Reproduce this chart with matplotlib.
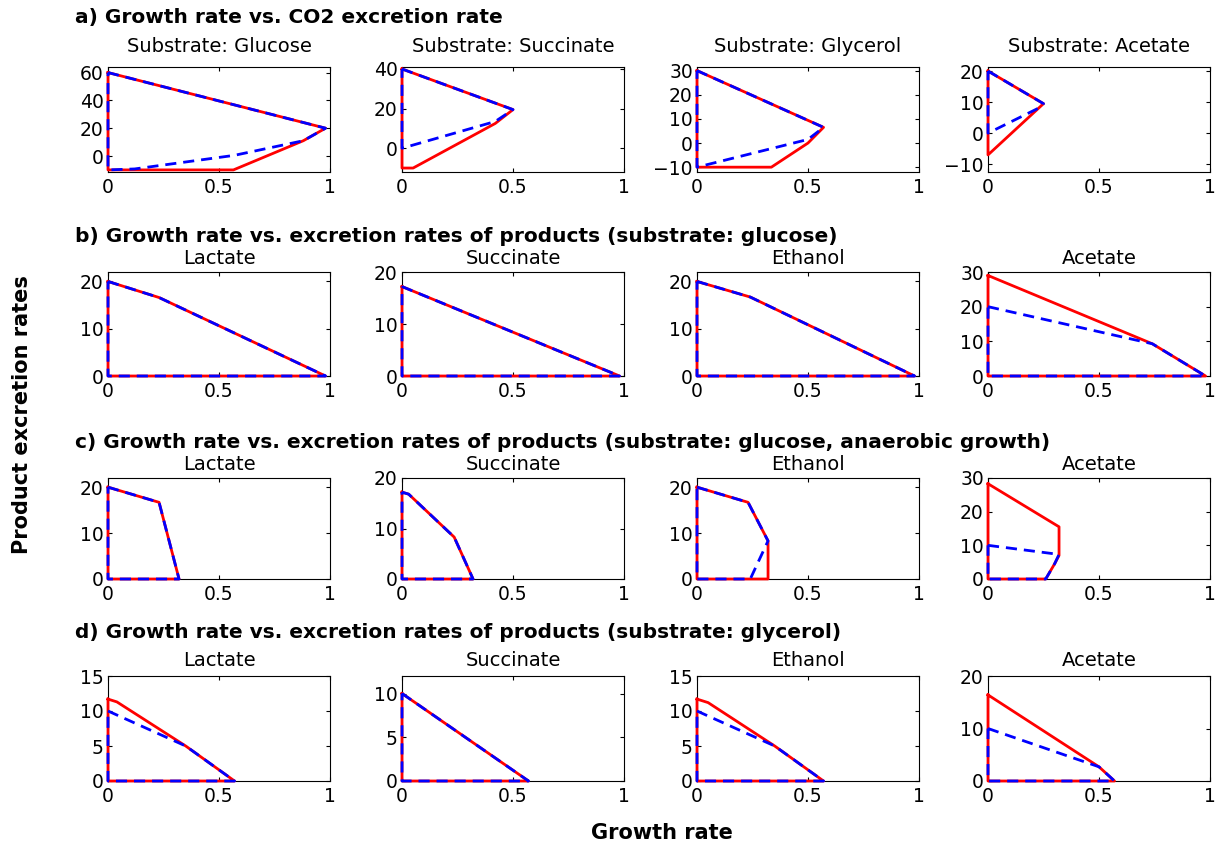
import matplotlib
matplotlib.use('Agg')
import matplotlib.pyplot as plt

plt.rcParams['font.family'] = 'DejaVu Sans'
plt.rcParams['axes.unicode_minus'] = True

# ---- row a: growth rate vs CO2 excretion (x = growth rate, y = rate)
a_titles = ['Substrate: Glucose', 'Substrate: Succinate', 'Substrate: Glycerol', 'Substrate: Acetate']
a_red_x = [[0, 0.98, 0.88, 0.565, 0, 0],
           [0, 0.5, 0.42, 0.05, 0, 0],
           [0, 0.57, 0.5, 0.335, 0, 0],
           [0, 0.25, 0, 0]]
a_red_y = [[60, 20, 11, -10, -10, 60],
           [40, 19.5, 12.5, -10, -10, 40],
           [30, 6.5, 0, -10, -10, 30],
           [20, 9.5, -7, 20]]
a_blue_x = [[0, 0.98, 0.88, 0.57, 0.12, 0, 0],
            [0, 0.5, 0.42, 0, 0],
            [0, 0.57, 0.5, 0, 0],
            [0, 0.25, 0.24, 0, 0]]
a_blue_y = [[60, 20, 11, 0.5, -9.3, -10, 60],
            [40, 19.5, 13.5, 0, 40],
            [30, 6.5, 1.5, -10, 30],
            [20, 9.5, 8.5, 0, 20]]
a_ylim = [(-11.5, 64), (-12, 41), (-12, 31.5), (-12.5, 21.3)]
a_yticks = [[0, 20, 40, 60], [0, 20, 40], [-10, 0, 10, 20, 30], [-10, 0, 10, 20]]

products = ['Lactate', 'Succinate', 'Ethanol', 'Acetate']

# ---- row b: glucose
b_red_x = [[0, 0.23, 0.98, 0, 0], [0, 0.98, 0, 0], [0, 0.24, 0.98, 0, 0], [0, 0.74, 0.98, 0, 0]]
b_red_y = [[20, 16.6, 0, 0, 20], [17.2, 0, 0, 17.2], [20, 16.7, 0, 0, 20], [29, 9.3, 0, 0, 29]]
b_blue_x = [[0, 0.23, 0.98, 0, 0], [0, 0.98, 0, 0], [0, 0.24, 0.98, 0, 0], [0, 0.74, 0.98, 0, 0]]
b_blue_y = [[20, 16.6, 0, 0, 20], [17.2, 0, 0, 17.2], [20, 16.7, 0, 0, 20], [20, 9.3, 0, 0, 20]]
b_ylim = [(0, 22), (0, 20), (0, 22), (0, 30)]
b_yticks = [[0, 10, 20], [0, 10, 20], [0, 10, 20], [0, 10, 20, 30]]

# ---- row c: glucose, anaerobic
c_red_x = [[0, 0.23, 0.32, 0, 0], [0, 0.03, 0.235, 0.32, 0, 0],
           [0, 0.23, 0.32, 0.32, 0, 0], [0, 0.32, 0.32, 0.30, 0.26, 0, 0]]
c_red_y = [[20, 16.7, 0, 0, 20], [17.2, 16.8, 8.3, 0, 0, 17.2],
           [20, 16.7, 8.3, 0, 0, 20], [28.3, 15.5, 7, 4.5, 0, 0, 28.3]]
c_blue_x = [[0, 0.23, 0.32, 0, 0], [0, 0.03, 0.235, 0.32, 0, 0],
            [0, 0.23, 0.32, 0.24, 0, 0], [0, 0.32, 0.30, 0.26, 0, 0]]
c_blue_y = [[20, 16.7, 0, 0, 20], [17.2, 16.8, 8.3, 0, 0, 17.2],
            [20, 16.7, 8.3, 0, 0, 20], [10, 7.3, 4.5, 0, 0, 10]]
c_ylim = [(0, 22), (0, 20), (0, 22), (0, 30)]
c_yticks = [[0, 10, 20], [0, 10, 20], [0, 10, 20], [0, 10, 20, 30]]

# ---- row d: glycerol
d_red_x = [[0, 0.04, 0.35, 0.57, 0, 0], [0, 0.57, 0, 0], [0, 0.05, 0.35, 0.57, 0, 0], [0, 0.5, 0.57, 0, 0]]
d_red_y = [[11.7, 11.3, 5, 0, 0, 11.7], [10, 0, 0, 10], [11.7, 11.2, 5, 0, 0, 11.7], [16.4, 2.7, 0, 0, 16.4]]
d_blue_x = [[0, 0.35, 0.57, 0, 0], [0, 0.57, 0, 0], [0, 0.35, 0.57, 0, 0], [0, 0.5, 0.57, 0, 0]]
d_blue_y = [[10, 5, 0, 0, 10], [10, 0, 0, 10], [10, 5, 0, 0, 10], [10, 2.7, 0, 0, 10]]
d_ylim = [(0, 15), (0, 12), (0, 15), (0, 20)]
d_yticks = [[0, 5, 10, 15], [0, 5, 10], [0, 5, 10, 15], [0, 10, 20]]

row_titles = ['a) Growth rate vs. CO2 excretion rate',
              'b) Growth rate vs. excretion rates of products (substrate: glucose)',
              'c) Growth rate vs. excretion rates of products (substrate: glucose, anaerobic growth)',
              'd) Growth rate vs. excretion rates of products (substrate: glycerol)']

rows = [
    (a_titles, a_red_x, a_red_y, a_blue_x, a_blue_y, a_ylim, a_yticks),
    (products, b_red_x, b_red_y, b_blue_x, b_blue_y, b_ylim, b_yticks),
    (products, c_red_x, c_red_y, c_blue_x, c_blue_y, c_ylim, c_yticks),
    (products, d_red_x, d_red_y, d_blue_x, d_blue_y, d_ylim, d_yticks),
]

W, H = 1216, 848
fig = plt.figure(figsize=(W / 100, H / 100), dpi=100)

# pixel layout (top, bottom) of each row and left edge of each column
row_px = [(67, 172), (272, 376), (478, 579), (676, 781)]
title_px = [18, 237, 443, 633]
title_pad = [11, 6, 6, 7]
col_px = [108, 402, 697, 988]
ax_w = 222

for r, (titles, rx, ry, bx, by, ylims, yticks) in enumerate(rows):
    top, bot = row_px[r]
    fig.text(75 / W, 1 - title_px[r] / H, row_titles[r], fontsize=14.5, fontweight='bold',
             va='center', ha='left')
    for c in range(4):
        ax = fig.add_axes([col_px[c] / W, 1 - bot / H, ax_w / W, (bot - top) / H])
        ax.plot(rx[c], ry[c], color='red', lw=2, clip_on=False, zorder=3)
        ax.plot(bx[c], by[c], color='blue', lw=2, ls='--', dashes=(4, 2.5), clip_on=False, zorder=4)
        ax.set_xlim(0, 1)
        ax.set_ylim(*ylims[c])
        ax.set_xticks([0, 0.5, 1])
        ax.set_xticklabels(['0', '0.5', '1'])
        ax.set_yticks(yticks[c])
        ax.tick_params(direction='in', top=True, right=True, labelsize=13.5, length=3)
        ax.tick_params(axis='x', pad=4)
        ax.tick_params(axis='y', pad=3)
        ax.set_title(titles[c], fontsize=14, pad=title_pad[r])

fig.text(662 / W, 1 - 833 / H, 'Growth rate', fontsize=15, fontweight='bold', ha='center', va='center')
fig.text(22 / W, 1 - 415 / H, 'Product excretion rates', fontsize=15, fontweight='bold',
         ha='center', va='center', rotation=90)

fig.savefig('out.png', dpi=100)
